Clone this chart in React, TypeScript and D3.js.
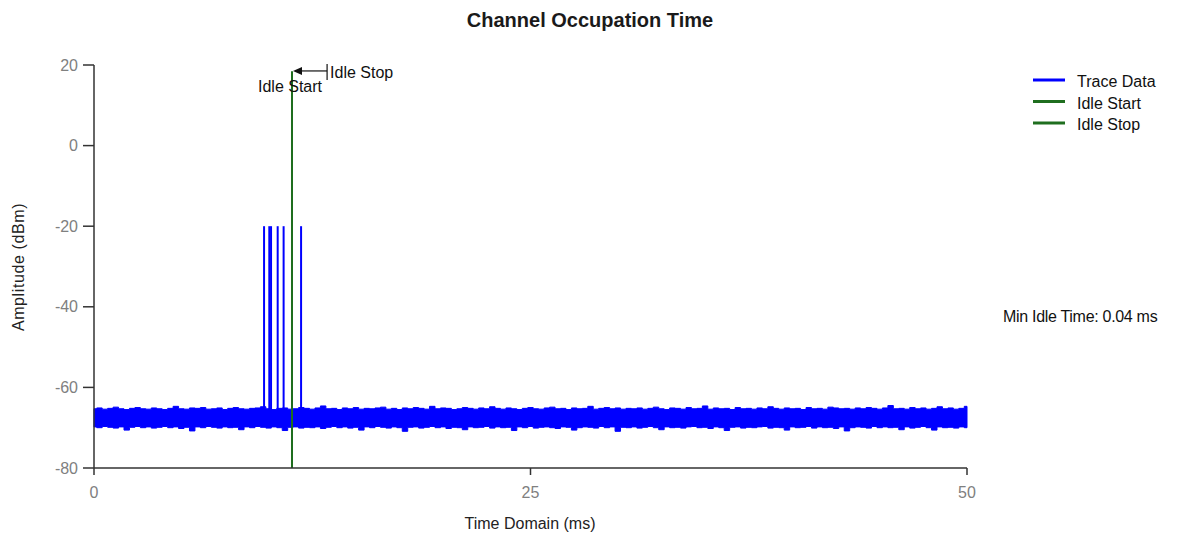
import React from "react";
import * as d3 from "d3";

// ---------- data ----------
const xDomain = [0, 50];
const yDomain = [-80, 20];
const xTicks = [0, 25, 50];
const yTicks = [20, 0, -20, -40, -60, -80];

// trace noise envelope (upper/lower, dBm), evenly spaced across 0..50 ms
const noiseHigh = [
  -65.3, -65.1, -65.4, -65.2, -64.9, -65.3, -65.5, -65.2, -65.0, -65.3,
  -65.4, -65.1, -65.3, -65.5, -65.2, -64.7, -65.3, -65.4, -65.1, -65.2,
  -65.0, -65.4, -65.3, -65.1, -65.5, -65.2, -65.0, -65.3, -65.4, -65.2,
  -65.1, -64.8, -65.3, -65.5, -65.2, -65.1, -65.4, -65.3, -65.0, -65.2,
  -65.4, -65.1, -64.6, -65.3, -65.2, -65.5, -65.1, -65.3, -65.0, -65.4,
  -65.2, -65.3, -65.1, -64.9, -65.4, -65.2, -65.5, -65.1, -65.3, -65.0,
  -65.2, -65.4, -64.7, -65.3, -65.1, -65.2, -65.5, -65.3, -65.0, -65.2,
  -65.4, -65.1, -65.3, -64.8, -65.2, -65.4, -65.1, -65.3, -65.5, -65.2,
  -65.0, -65.3, -65.4, -65.1, -64.9, -65.3, -65.2, -65.5, -65.1, -65.3,
  -65.2, -64.7, -65.4, -65.2, -65.0, -65.3, -65.1, -65.4, -65.2, -65.3,
  -65.1, -65.4, -65.2, -64.9, -65.3, -65.5, -65.1, -65.2, -65.4, -65.0,
  -65.3, -65.2, -64.6, -65.4, -65.1, -65.3, -65.2, -65.5, -65.0, -65.3,
  -65.2, -65.4, -65.1, -65.3, -64.8, -65.2, -65.4, -65.1, -65.3, -65.2,
  -65.5, -65.0, -65.3, -65.2, -65.4, -64.9, -65.1, -65.3, -65.2, -65.4,
  -65.1, -65.3, -65.0, -65.2, -65.4, -65.1, -64.5, -65.3, -65.2, -65.4,
  -65.0, -65.3, -65.1, -65.4, -65.2, -64.8, -65.3, -65.1, -65.4, -65.2,
  -64.7,
];
const noiseLow = [
  -69.8, -70.0, -69.7, -69.9, -70.1, -69.8, -70.6, -69.9, -69.7, -70.0,
  -69.8, -70.1, -69.9, -69.7, -70.0, -69.8, -70.2, -69.9, -70.8, -69.8,
  -70.0, -69.7, -69.9, -70.1, -69.8, -70.0, -69.9, -70.5, -69.8, -70.0,
  -69.7, -69.9, -70.1, -69.8, -70.0, -70.7, -69.9, -69.8, -70.1, -69.9,
  -70.0, -69.8, -70.2, -69.9, -69.7, -70.0, -69.8, -70.1, -69.9, -70.6,
  -69.8, -70.0, -69.7, -69.9, -70.1, -69.8, -70.0, -70.9, -69.9, -69.8,
  -70.1, -69.9, -69.7, -70.0, -69.8, -70.2, -69.9, -70.0, -70.5, -69.8,
  -70.0, -69.9, -69.7, -70.1, -69.8, -70.0, -69.9, -70.7, -69.8, -70.0,
  -69.7, -70.1, -69.9, -69.8, -70.0, -70.2, -69.8, -69.9, -70.6, -70.0,
  -69.8, -69.9, -70.1, -69.7, -70.0, -69.8, -70.9, -69.9, -70.0, -69.8,
  -70.1, -69.9, -69.7, -70.0, -70.5, -69.8, -70.0, -69.9, -70.1, -69.8,
  -69.7, -70.0, -69.9, -70.2, -69.8, -70.0, -70.7, -69.9, -69.8, -70.1,
  -69.9, -70.0, -69.8, -69.7, -70.1, -69.9, -70.0, -70.6, -69.8, -70.0,
  -69.9, -69.7, -70.1, -69.8, -70.0, -69.9, -70.2, -69.8, -70.8, -70.0,
  -69.8, -69.9, -70.1, -69.7, -70.0, -69.8, -70.0, -69.9, -70.5, -69.8,
  -70.1, -69.9, -69.7, -70.0, -70.6, -69.8, -70.0, -69.9, -70.1, -69.8,
  -70.0,
];

// burst spikes in the trace (ms) reaching -20 dBm
const spikeTimes = [9.74, 10.04, 10.14, 10.52, 10.86, 11.86];
const spikeTop = -20;
const spikeBase = -66;

// idle markers
const idleStartTime = 11.34;
const idleStopTime = 11.34;
const idleTop = 18.4;
const idleStopLabelTime = 13.35;
const minIdleText = "Min Idle Time: 0.04 ms";

const legendItems = [
  { label: "Trace Data", color: "#0000ff" },
  { label: "Idle Start", color: "#1f6e1f" },
  { label: "Idle Stop", color: "#1f6e1f" },
];

// ---------- component ----------
const FONT = "'Liberation Sans', Arial, sans-serif";

export default function App() {
  const x = d3.scaleLinear().domain(xDomain).range([94, 967]);
  const y = d3.scaleLinear().domain(yDomain).range([468, 65]);

  const n = noiseHigh.length;
  const tAt = (i: number) => (i / (n - 1)) * xDomain[1];
  const area = d3
    .area<number>()
    .curve(d3.curveStep)
    .x((_, i) => x(tAt(i)))
    .y0((_, i) => y(noiseLow[i]))
    .y1((_, i) => y(noiseHigh[i]));
  const areaPath = area(noiseHigh) || "";

  const greenX = x(idleStartTime);
  const arrowY = y(idleTop) - 0.5;
  const barX = x(idleStopLabelTime);

  return (
    <svg
      width={1180}
      height={537}
      style={{ position: "absolute", left: 0, top: 0, background: "#fff" }}
      fontFamily={FONT}
    >
      {/* title */}
      <text x={590} y={27} textAnchor="middle" fontSize={20} fontWeight="bold" fill="#1a1a1a">
        Channel Occupation Time
      </text>

      {/* trace noise */}
      <path d={areaPath} fill="#0000ff" stroke="#0000ff" strokeWidth={1} />
      {/* spikes */}
      {spikeTimes.map((t, i) => (
        <line
          key={i}
          x1={x(t)}
          x2={x(t)}
          y1={y(spikeBase)}
          y2={y(spikeTop)}
          stroke="#0000ff"
          strokeWidth={2}
        />
      ))}

      {/* idle markers */}
      <line x1={greenX} x2={greenX} y1={y(idleTop)} y2={y(-80)} stroke="#1f6e1f" strokeWidth={2} />
      <line x1={x(idleStopTime)} x2={x(idleStopTime)} y1={y(idleTop)} y2={y(-80)} stroke="#1f6e1f" strokeWidth={2} />

      {/* axes */}
      <line x1={94} x2={94} y1={y(20)} y2={y(-80)} stroke="#333" strokeWidth={1.5} />
      <line x1={94} x2={967} y1={y(-80)} y2={y(-80)} stroke="#333" strokeWidth={1.5} />
      {yTicks.map((v) => (
        <g key={v}>
          <line x1={83} x2={94} y1={y(v)} y2={y(v)} stroke="#333" strokeWidth={1.5} />
          <text x={78} y={y(v) + 5.5} textAnchor="end" fontSize={16} fill="#808080">
            {v}
          </text>
        </g>
      ))}
      {xTicks.map((v) => (
        <g key={v}>
          <line x1={x(v)} x2={x(v)} y1={468} y2={475} stroke="#333" strokeWidth={1.5} />
          <text x={x(v)} y={498} textAnchor="middle" fontSize={16} fill="#808080">
            {v}
          </text>
        </g>
      ))}

      {/* axis titles */}
      <text x={530} y={529} textAnchor="middle" fontSize={16} fill="#222">
        Time Domain (ms)
      </text>
      <text
        transform={`translate(24,267) rotate(-90)`}
        textAnchor="middle"
        fontSize={16}
        fill="#222"
        letterSpacing={0.6}
      >
        Amplitude (dBm)
      </text>

      {/* annotations */}
      <line x1={greenX + 8} x2={barX} y1={arrowY} y2={arrowY} stroke="#111" strokeWidth={1.2} />
      <path
        d={`M${greenX + 1},${arrowY} L${greenX + 10},${arrowY - 4} L${greenX + 10},${arrowY + 4} Z`}
        fill="#111"
      />
      <line x1={barX} x2={barX} y1={arrowY - 7} y2={arrowY + 9} stroke="#111" strokeWidth={1.2} />
      <text x={barX + 3} y={78} fontSize={16} fill="#111">
        Idle Stop
      </text>
      <text x={258} y={92} fontSize={16} fill="#111">
        Idle Start
      </text>

      {/* legend */}
      {legendItems.map((d, i) => (
        <g key={d.label}>
          <line
            x1={1033}
            x2={1065}
            y1={80 + i * 21.5}
            y2={80 + i * 21.5}
            stroke={d.color}
            strokeWidth={3}
          />
          <text x={1077} y={87 + i * 21.5} fontSize={16} fill="#111">
            {d.label}
          </text>
        </g>
      ))}

      <text x={1003} y={322} fontSize={16} fill="#111" letterSpacing={-0.3}>
        {minIdleText}
      </text>
    </svg>
  );
}
